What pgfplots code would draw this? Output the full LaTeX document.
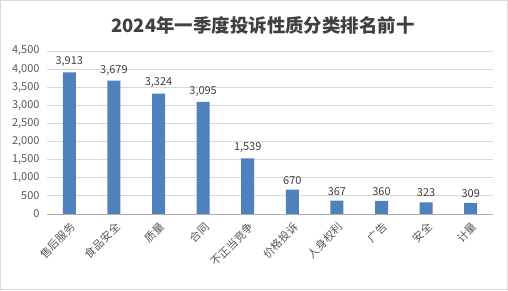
\documentclass[border=0pt]{standalone}
\usepackage{pgfplots}
\pgfplotsset{compat=1.18}
\usepackage{fontspec}
\setmainfont{Noto Sans CJK SC}
\definecolor{barblue}{HTML}{4F81BD}
\definecolor{txt}{HTML}{595959}
\definecolor{ttl}{HTML}{404040}
\definecolor{grd}{HTML}{D9D9D9}
\begin{document}
\begin{tikzpicture}[x=1bp,y=1bp]
\useasboundingbox (0,0) rectangle (508,290);
\draw[draw=grd,fill=white,line width=1bp] (0.5,0.5) rectangle (507.5,289.5);
\node[font=\fontsize{18.5}{20}\selectfont\bfseries,text=ttl] at (263,265) {2024年一季度投诉性质分类排名前十};
\begin{axis}[
  at={(47bp,76bp)}, anchor=south west,
  scale only axis, width=446bp, height=163bp,
  ymin=0, ymax=4500, ytick={0,500,...,4500},
  xmin=-0.5, xmax=9.5,
  xtick={0,...,9},
  xticklabels={售后服务,食品安全,质量,合同,不正当竞争,价格投诉,人身权利,广告,安全,计量},
  x tick label style={xshift=4bp, yshift=-11bp, rotate=45, anchor=east, font=\fontsize{11}{12}\selectfont, text=txt, inner sep=0pt},
  y tick label style={font=\fontsize{11}{12}\selectfont, text=txt, /pgf/number format/assume math mode=true, xshift=-4bp},
  /pgf/number format/.cd, 1000 sep={,}, /pgfplots/.cd,
  scaled y ticks=false,
  axis line style={draw=none},
  ymajorgrids, grid style={grd, line width=0.8bp},
  major tick length=0pt,
  ybar, bar width=13bp,
  nodes near coords,
  every node near coord/.append style={font=\fontsize{11}{12}\selectfont, text=ttl, /pgf/number format/assume math mode=true, yshift=2bp},
  clip=false,
]
\addplot[fill=barblue, draw=none] coordinates {(0,3913) (1,3679) (2,3324) (3,3095) (4,1539) (5,670) (6,367) (7,360) (8,323) (9,309)};
\draw[draw=grd!80!black, line width=0.8bp] (axis cs:-0.5,0) -- (axis cs:9.5,0);
\end{axis}
\end{tikzpicture}
\end{document}
